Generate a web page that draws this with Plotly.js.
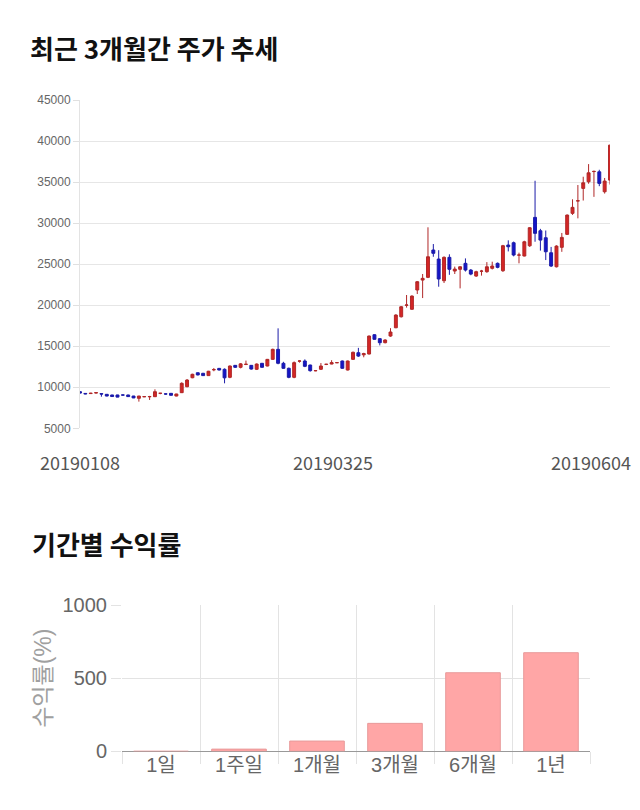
<!DOCTYPE html>
<html><head><meta charset="utf-8">
<script src="https://cdn.plot.ly/plotly-3.0.1.min.js"></script>
<style>html,body{margin:0;padding:0;background:#fff}#chart{width:640px;height:810px}</style>
</head><body><div id="chart"></div>
<script>
const dates = [
'20190108','20190109','20190110','20190111','20190114','20190115','20190116','20190117','20190118','20190121','20190122','20190123','20190124','20190125','20190128','20190129','20190130','20190131',
'20190201','20190207','20190208','20190211','20190212','20190213','20190214','20190215','20190218','20190219','20190220','20190221','20190222','20190225','20190226','20190227','20190228',
'20190304','20190305','20190306','20190307','20190308','20190311','20190312','20190313','20190314','20190315','20190318','20190319','20190320','20190321','20190322','20190325','20190326','20190327','20190328','20190329',
'20190401','20190402','20190403','20190404','20190405','20190408','20190409','20190410','20190411','20190412','20190415','20190416','20190417','20190418','20190419','20190422','20190423','20190424','20190425','20190426','20190429','20190430',
'20190502','20190503','20190507','20190508','20190509','20190510','20190513','20190514','20190515','20190516','20190517','20190520','20190521','20190522','20190523','20190524','20190527','20190528','20190529','20190530','20190531',
'20190603','20190604'];
const openP = [9460,9250,9230,9300,9220,9140,9060,9060,9060,9060,8930,8650,8840,8840,8850,9260,9190,9260,8930,9340,
10070,11160,11770,11700,11420,12130,12300,12190,11210,12670,12430,12780,12670,12190,12920,12590,13400,14620,12920,12310,
11210,13180,13200,12710,12010,12190,12780,12830,12990,13200,12100,13400,14210,13950,14050,16400,15920,15430,16240,17250,
18590,19990,19500,21850,23060,23390,26720,25620,22980,25830,24160,24370,25100,24280,23550,24130,24080,24490,25100,24200,
27330,27610,26100,25990,27240,30700,29070,28220,26390,24680,27050,28630,31190,32700,34230,35040,36280,36250,33820,35240];
const highP = [9500,9300,9320,9380,9250,9160,9080,9080,9100,9080,8950,8950,8900,8950,9750,9300,9250,9280,9200,10600,
11000,11650,11800,11750,12000,12350,12350,12300,12650,12700,12950,13250,12700,12900,12950,13450,14700,17180,13100,12400,
13150,13300,13400,12750,12100,12950,12850,13300,13050,13250,13250,14350,14800,14200,16300,16450,16000,15850,17200,18900,
19900,21240,21200,22950,23800,29490,27450,26700,25950,26200,24700,24750,25700,24400,24200,24300,25250,25300,25200,27350,
27900,27750,26400,27850,29500,35160,29300,29100,27100,27300,28800,31050,32900,34640,35650,37190,36400,36500,35500,39550];
const lowP = [9250,9150,9200,9250,8850,8900,8850,8780,9000,8850,8680,8250,8800,8450,8820,9150,9100,9000,8900,9300,
10000,11100,11450,11380,11400,11950,12050,10480,11100,12350,12300,12700,12150,12100,12400,12550,13350,12800,12250,11100,
11100,13000,12450,11900,11950,12100,12700,12800,12950,12250,12050,13350,13700,13650,14000,15800,15100,15350,16150,17200,
18500,19700,19450,21360,20870,23300,25900,22250,22700,23700,23800,22050,24100,23650,23450,23600,23950,24350,24500,24050,
26550,25950,25100,25950,27100,27730,26650,25500,24650,24600,26500,28550,31000,30580,32750,34800,33200,34500,33600,34700];
const closeP = [9300,9200,9270,9340,9180,8930,8870,8800,9050,8860,8700,8930,8860,8870,9460,9270,9180,9020,9180,10480,
10880,11580,11500,11420,11950,12150,12100,11150,12590,12430,12850,12800,12220,12830,12430,13400,14620,12920,12310,11210,
13000,13200,12550,12020,12030,12590,12800,13000,13000,12310,13200,14260,13800,14100,16240,15840,15430,15760,16730,18800,
19810,20020,21110,22860,23270,25900,26320,23190,25830,24370,24400,24680,24280,23790,24080,24150,24680,24770,24610,27250,
27120,26110,26110,27730,29440,28750,27930,26510,24770,27200,28260,30980,31920,32720,34910,36130,36300,34840,35120,39500];
const dateTicks = ['20190108','20190325','20190604'];
const priceTicks = [5000,10000,15000,20000,25000,30000,35000,40000,45000];
const periods = ['1일','1주일','1개월','3개월','6개월','1년'];
const returns = [0, 15, 70, 191, 537, 674];
const returnTicks = [0, 500, 1000];

const H = 810, W = 640;
const py = p => 1 - p / H;

const candle = {
  type: 'candlestick', x: dates, open: openP, high: highP, low: lowP, close: closeP,
  xaxis: 'x', yaxis: 'y',
  increasing: {line: {color: '#b02828', width: 1}, fillcolor: '#d42626'},
  decreasing: {line: {color: '#1c1ca8', width: 1}, fillcolor: '#1414c8'},
  whiskerwidth: 0, hoverinfo: 'skip'
};
const bars = {
  type: 'bar', x: periods, y: returns, xaxis: 'x2', yaxis: 'y2', width: 0.7,
  marker: {color: '#ffa6a6', line: {color: '#e89a9a', width: 1}}, hoverinfo: 'skip'
};

const tickFontSmall = {family: 'Liberation Sans, Arial, sans-serif', size: 12, color: '#666'};
const grid = '#e6e6e6';
const dateFont = {family: 'Noto Sans CJK KR', size: 18, color: '#555'};
const shifts = [0, -15, -19];
const dateAnns = dateTicks.map((d, k) => ({
  text: d, xref: 'x', yref: 'paper', x: dates.indexOf(d), y: py(462), xanchor: 'center', yanchor: 'middle',
  xshift: shifts[k], showarrow: false, font: dateFont
}));

const layout = {
  width: W, height: H, margin: {l: 0, r: 0, t: 0, b: 0},
  paper_bgcolor: '#fff', plot_bgcolor: '#fff', showlegend: false, hovermode: false, boxgap: 0.22,
  title: {text: '<b>최근 3개월간 주가 추세</b>', x: 30 / W, xanchor: 'left', y: py(50), yanchor: 'middle',
    font: {family: 'Noto Sans CJK KR', size: 26, color: '#111'}},
  xaxis: {domain: [80 / W, 610 / W], type: 'category', range: [0, dates.length - 1],
    showgrid: false, showticklabels: false, ticks: '', zeroline: false, showline: false,
    rangeslider: {visible: false}, fixedrange: true},
  yaxis: {domain: [py(428.3), py(100)], range: [5000, 45000], tickvals: priceTicks, tickformat: 'd',
    gridcolor: grid, gridwidth: 1, showline: true, linecolor: '#e3e3e3', ticks: 'outside', ticklen: 6,
    tickcolor: '#e0e0e0', tickfont: tickFontSmall, zeroline: false, fixedrange: true},
  xaxis2: {domain: [122 / W, 590 / W], type: 'category', anchor: 'y2', tickson: 'boundaries',
    ticks: 'outside', ticklen: 12, tickcolor: '#e3e3e3', showgrid: true, gridcolor: '#e3e3e3',
    tickfont: {family: 'Liberation Sans, Noto Sans CJK KR, sans-serif', size: 20, color: '#666'},
    showline: false, zeroline: false, fixedrange: true},
  yaxis2: {domain: [py(751.3), py(605)], range: [0, 1000], tickvals: returnTicks, tickformat: 'd', anchor: 'x2',
    gridcolor: '#e3e3e3', ticks: 'outside', ticklen: 10, tickcolor: '#e3e3e3',
    zeroline: true, zerolinecolor: '#999', zerolinewidth: 1, showline: false,
    tickfont: {family: 'Liberation Sans, Arial, sans-serif', size: 20, color: '#666'},
    title: {text: '수익률(%)', standoff: 4, font: {family: 'Liberation Sans, Noto Sans CJK KR, sans-serif', size: 23, color: '#a0a0a0'}},
    fixedrange: true},
  annotations: [
    {text: '<b>기간별 수익률</b>', xref: 'paper', yref: 'paper', x: 30 / W, y: py(543), xanchor: 'left', yanchor: 'middle',
      showarrow: false, font: {family: 'Noto Sans CJK KR', size: 26, color: '#111'}}
  ].concat(dateAnns)
};
Plotly.newPlot('chart', [candle, bars], layout, {displayModeBar: false, staticPlot: true});
</script></body></html>
